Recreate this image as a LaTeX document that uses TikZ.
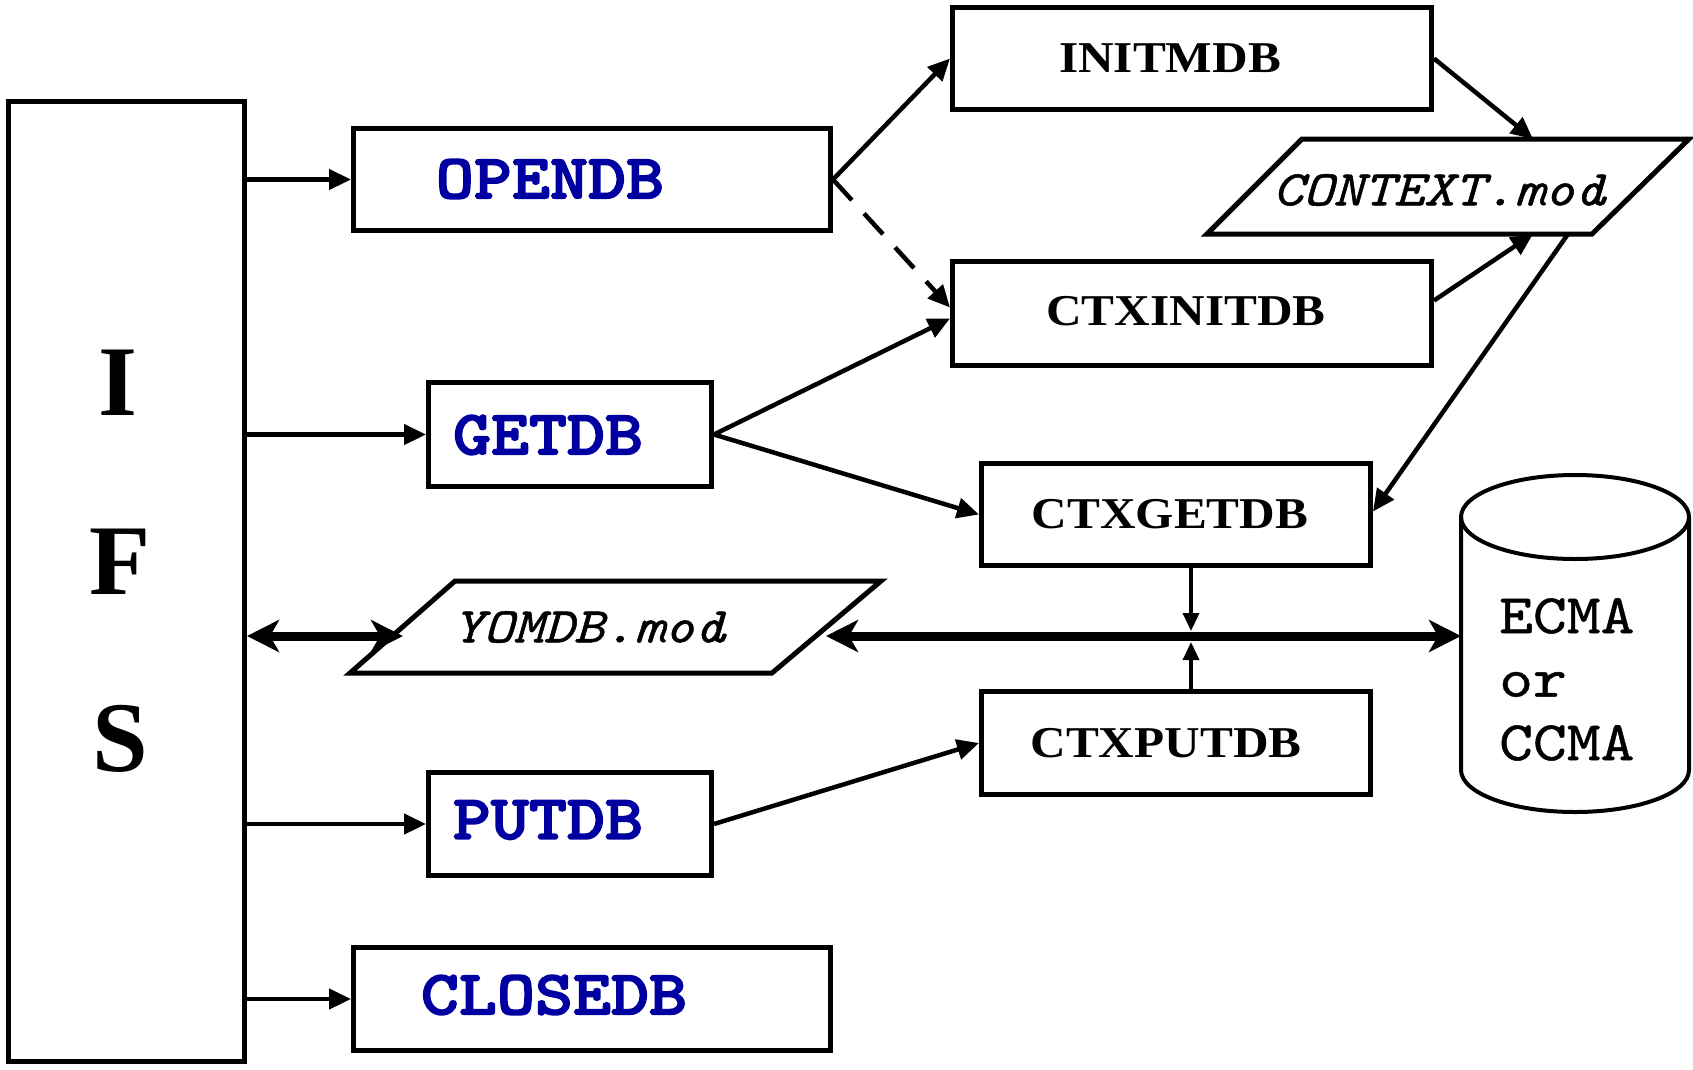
\documentclass[tikz,border=0pt]{standalone}
\usepackage{fontspec}
\setmainfont{Liberation Serif}
\newfontfamily\blkfont[FakeStretch=1.12]{Liberation Serif}
\newfontfamily\cmonob[FakeStretch=1.15,FakeBold=2.5]{lmmonolt10-bold.otf}
\newfontfamily\cmonoi[FakeStretch=1.15,FakeBold=1]{lmmono10-italic.otf}
\newfontfamily\cmonor[FakeStretch=1.15,FakeBold=0.8]{lmmono10-regular.otf}
\usetikzlibrary{arrows.meta,calc}
\definecolor{lblue}{RGB}{0,0,160}
\begin{document}
\begin{tikzpicture}[x=1pt,y=-1pt,
  box/.style={draw, line width=5pt, inner sep=0pt},
  conn/.style={line width=4.5pt, -{Triangle[length=22pt,width=20pt]}},
  sconn/.style={line width=3.5pt, -{Triangle[length=18pt,width=16pt]}},
  thick2/.style={line width=9pt, {Stealth[length=32pt,width=32pt,inset=9pt]}-{Stealth[length=32pt,width=32pt,inset=9pt]}},
  bluelbl/.style={text=lblue, font=\cmonob\fontsize{63}{70}\selectfont, inner sep=0pt},
  blklbl/.style={font=\blkfont\bfseries\fontsize{44}{50}\selectfont, inner sep=0pt},
  modlbl/.style={font=\cmonoi\fontsize{50}{56}\selectfont, inner sep=0pt},
  ifslbl/.style={font=\bfseries\fontsize{100}{110}\selectfont, inner sep=0pt}
]
\useasboundingbox (0,0) rectangle (1693,1069);

% boxes
\node[box, minimum width=236pt, minimum height=960pt] (ifs) at (126.5,581.5) {};
\node[box, minimum width=477pt, minimum height=102pt] (opendb) at (592,179.5) {};
\node[box, minimum width=283pt, minimum height=104pt] (getdb) at (570,434.5) {};
\node[box, minimum width=283pt, minimum height=103pt] (putdb) at (570,824) {};
\node[box, minimum width=477pt, minimum height=103pt] (closedb) at (592,999) {};
\node[box, minimum width=479pt, minimum height=102pt] (initmdb) at (1192,58.5) {};
\node[box, minimum width=479pt, minimum height=104pt] (ctxinitdb) at (1192,313.5) {};
\node[box, minimum width=389pt, minimum height=102pt] (ctxgetdb) at (1176,514.5) {};
\node[box, minimum width=389pt, minimum height=103pt] (ctxputdb) at (1176,743) {};

% parallelograms
\coordinate (cTL) at (1302,139);
\coordinate (cTR) at (1689,139);
\coordinate (cBR) at (1592,234);
\coordinate (cBL) at (1207,234);
\draw[line width=5pt, line join=miter] (cTL) -- (cTR) -- (cBR) -- (cBL) -- cycle;
\coordinate (yTL) at (455,581);
\coordinate (yTR) at (881,581);
\coordinate (yBR) at (772,673);
\coordinate (yBL) at (350,673);
\draw[line width=5pt, line join=miter] (yTL) -- (yTR) -- (yBR) -- (yBL) -- cycle;

% cylinder
\coordinate (cylL) at (1461,636);
\draw[line width=4pt] (1575,517) ellipse [x radius=114, y radius=42];
\draw[line width=4pt] (1461,517) -- (1461,770) arc[start angle=180, end angle=0, x radius=114, y radius=42] -- (1689,517);

% labels
\node[ifslbl] (lI) at (118,383) {I};
\node[ifslbl] (lF) at (120,562) {F};
\node[ifslbl] (lS) at (120,739) {S};
\node[bluelbl] (opendbT) at (550,179) {OPENDB};
\node[bluelbl] (getdbT) at (548,435) {GETDB};
\node[bluelbl] (putdbT) at (548,820) {PUTDB};
\node[bluelbl] (closedbT) at (554,995) {CLOSEDB};
\node[blklbl] (initT) at (1170,58) {INITMDB};
\node[blklbl] (ctxinitT) at (1186,311) {CTXINITDB};
\node[blklbl] (ctxgetT) at (1170,514) {CTXGETDB};
\node[blklbl] (ctxputT) at (1166,743) {CTXPUTDB};
\node[modlbl] (contextT) at (1439,190) {CONTEXT.mod};
\node[modlbl] (yomdbT) at (589,627) {YOMDB.mod};
\node[font=\cmonor\fontsize{56}{63.5}\selectfont, inner sep=0pt, anchor=north west, align=left] (ecmaT) at (1499,598) {ECMA\\or\\CCMA};

% connectors
\draw[conn] (ifs.east |- opendb.west) -- (opendb.west);
\draw[conn] (ifs.east |- getdb.west) -- (getdb.west);
\draw[conn] (ifs.east |- putdb.west) -- (putdb.west);
\draw[conn] (ifs.east |- closedb.west) -- (closedb.west);

\draw[conn] (opendb.east) -- (initmdb.west);
\draw[conn, dash pattern=on 28pt off 18pt] (opendb.east) -- ($(ctxinitdb.west)+(0,-6)$);
\draw[conn] (getdb.east) -- ($(ctxinitdb.west)+(0,5)$);
\draw[conn] (getdb.east) -- (ctxgetdb.west);
\draw[conn] (putdb.east) -- (ctxputdb.west);

\draw[conn] (initmdb.east) -- (1533,139);
\draw[conn] ($(ctxinitdb.east)+(0,-13)$) -- (1533,234);
\draw[conn] (1568,234) -- ($(ctxgetdb.east)+(0,-3)$);

\coordinate (yL) at (403,636);
\coordinate (yR) at (826,636);
\draw[thick2] (ifs.east |- yL) -- (yL);
\draw[thick2] (yR) -- (cylL);

\coordinate (busTop) at (1191,631);
\coordinate (busBot) at (1191,642);
\draw[sconn] (ctxgetdb.south -| busTop) -- (busTop);
\draw[sconn] (ctxputdb.north -| busBot) -- (busBot);
\end{tikzpicture}
\end{document}
